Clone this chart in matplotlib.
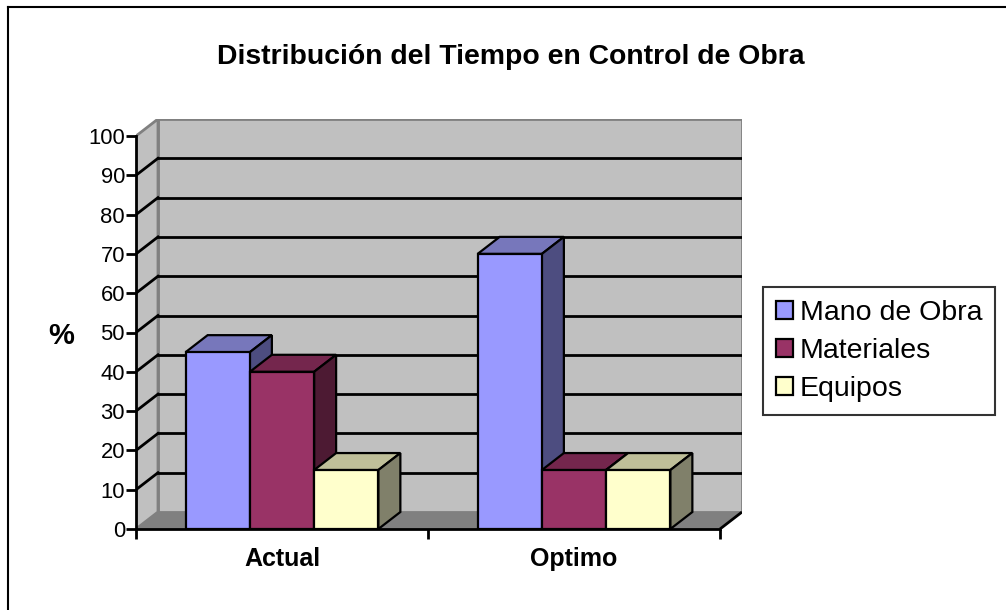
import numpy as np
import matplotlib.pyplot as plt
from matplotlib.patches import Polygon
from matplotlib.lines import Line2D

# chart data
categories = ['Actual', 'Optimo']
series = ['Mano de Obra', 'Materiales', 'Equipos']
mano_obra = [45, 70]
materiales = [40, 15]
equipos = [15, 15]
y_ticks = [0, 10, 20, 30, 40, 50, 60, 70, 80, 90, 100]

values = [mano_obra, materiales, equipos]

# face colours: front, top, side
front_colors = ['#9999FF', '#993366', '#FFFFCC']
top_colors = ['#7777BB', '#74264D', '#BFBF99']
side_colors = ['#4D4D80', '#4D1A33', '#80806A']

# pseudo 3d depth, in data units
dx = 22 / 292
dy = 17 / 3.93
bar_w = 0.22

W, H = 1006, 610
fig = plt.figure(figsize=(W / 100, H / 100), dpi=100)
plt.rcParams['font.family'] = ['Liberation Sans', 'DejaVu Sans']

# axes box goes from the front plane bottom-left to the back wall top-right
left, right, bottom, top = 136, 742, 529, 119
ax = fig.add_axes([left / W, 1 - bottom / H, (right - left) / W, (bottom - top) / H])
ax.set_xlim(-0.5, 1.5 + dx)
ax.set_ylim(0, 100 + dy)
ax.patch.set_visible(False)

x0, x1 = -0.5, 1.5
gray = '#C0C0C0'
dark = '#808080'

# back wall
ax.add_patch(Polygon([(x0 + dx, dy), (x1 + dx, dy), (x1 + dx, 100 + dy), (x0 + dx, 100 + dy)],
                     closed=True, facecolor=gray, edgecolor=dark, lw=2, zorder=1))
# left wall
ax.add_patch(Polygon([(x0, 0), (x0 + dx, dy), (x0 + dx, 100 + dy), (x0, 100)],
                     closed=True, facecolor=gray, edgecolor=dark, lw=2, zorder=1))
# floor
ax.add_patch(Polygon([(x0, 0), (x1, 0), (x1 + dx, dy), (x0 + dx, dy)],
                     closed=True, facecolor=dark, edgecolor='none', zorder=1))
ax.plot([x1, x1 + dx], [0, dy], color='black', lw=2, zorder=2, solid_capstyle='butt')

# gridlines on back wall and left wall
for v in y_ticks[1:-1]:
    ax.plot([x0 + dx, x1 + dx], [v + dy, v + dy], color='black', lw=2, zorder=2)
    ax.plot([x0, x0 + dx], [v, v + dy], color='black', lw=2, zorder=2)

# bars, left to right so each front covers the previous side face
offsets = [-bar_w, 0, bar_w]
xs = np.arange(len(categories))
for ci, cx in enumerate(xs):
    for si in range(len(series)):
        h = values[si][ci]
        xl = cx + offsets[si] - bar_w / 2
        xr = xl + bar_w
        z = 3 + ci * 10 + si * 2
        ax.add_patch(Polygon([(xl, h), (xr, h), (xr + dx, h + dy), (xl + dx, h + dy)],
                             closed=True, facecolor=top_colors[si], edgecolor='black',
                             lw=1.6, zorder=z))
        ax.add_patch(Polygon([(xr, 0), (xr + dx, dy), (xr + dx, h + dy), (xr, h)],
                             closed=True, facecolor=side_colors[si], edgecolor='black',
                             lw=1.6, zorder=z))
        ax.bar(xl, h, width=bar_w, align='edge', color=front_colors[si],
               edgecolor='black', lw=1.6, zorder=z + 1,
               label=series[si] if ci == 0 else None)

# axis lines
for s in ['top', 'right']:
    ax.spines[s].set_visible(False)
ax.spines['left'].set_bounds(0, 100)
ax.spines['bottom'].set_bounds(x0, x1)
ax.spines['left'].set_linewidth(2)
ax.spines['bottom'].set_linewidth(2)
ax.spines['left'].set_zorder(40)
ax.spines['bottom'].set_zorder(40)

ax.set_yticks(y_ticks)
ax.set_yticklabels([str(v) for v in y_ticks], fontsize=15.8)
ax.tick_params(axis='y', length=7, width=2, pad=1)

ax.set_xticks([x0, 0.5, x1])
ax.set_xticklabels([])
ax.set_xticks(xs, minor=True)
ax.set_xticklabels(categories, minor=True, fontsize=18, fontweight='bold')
ax.tick_params(axis='x', which='minor', length=0, pad=13)
ax.tick_params(axis='x', which='major', length=7, width=2)

fig.text(61 / W, 1 - 336 / H, '%', fontsize=21, fontweight='bold', ha='center', va='center')
fig.text(511 / W, 1 - 57 / H, 'Distribución del Tiempo en Control de Obra',
         fontsize=20.4, fontweight='bold', ha='center', va='center')

leg = fig.legend(loc='upper left', bbox_to_anchor=(763 / W, 1 - 287 / H), fontsize=20.5,
                 frameon=True, fancybox=False, edgecolor='black', handlelength=0.6,
                 handleheight=0.6, handletextpad=0.25, labelspacing=0.42,
                 borderpad=0.45, borderaxespad=0)
leg.get_frame().set_linewidth(1.5)

# chart area border (top and left edges only visible)
fig.add_artist(Line2D([8 / W, 1], [1 - 7 / H, 1 - 7 / H], color='black', lw=1.5))
fig.add_artist(Line2D([8 / W, 8 / W], [0, 1 - 7 / H], color='black', lw=1.5))

fig.savefig('out.png', dpi=100)
